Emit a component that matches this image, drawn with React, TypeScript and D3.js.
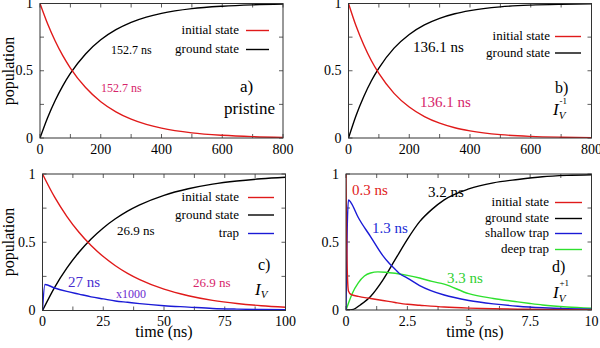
import React from "react";
import * as d3 from "d3";

// ---------- DATA ----------
// Panel a (pristine)
const tA = [0, 25, 50, 75, 100, 150, 200, 250, 300, 350, 400, 500, 600, 700, 800];
const initA = [1, 0.849, 0.721, 0.612, 0.52, 0.375, 0.27, 0.195, 0.14, 0.101, 0.073, 0.038, 0.02, 0.01, 0.005];
const groundA = [0, 0.151, 0.279, 0.388, 0.48, 0.625, 0.73, 0.805, 0.86, 0.899, 0.927, 0.962, 0.98, 0.99, 0.995];
// Panel b (I_V^-1)
const tB = [0, 25, 50, 75, 100, 150, 200, 250, 300, 350, 400, 500, 600, 700, 800];
const initB = [1, 0.832, 0.693, 0.576, 0.48, 0.332, 0.23, 0.159, 0.11, 0.076, 0.053, 0.025, 0.012, 0.006, 0.003];
const groundB = [0, 0.168, 0.307, 0.424, 0.52, 0.668, 0.77, 0.841, 0.89, 0.924, 0.947, 0.975, 0.988, 0.994, 0.997];
// Panel c (I_V)
const tC = [0, 5, 10, 15, 20, 25, 30, 35, 40, 50, 60, 70, 80, 90, 100];
const initC = [1, 0.83, 0.69, 0.573, 0.476, 0.395, 0.328, 0.272, 0.226, 0.156, 0.108, 0.074, 0.051, 0.035, 0.024];
const groundC = [0, 0.17, 0.31, 0.427, 0.524, 0.605, 0.672, 0.728, 0.774, 0.844, 0.892, 0.926, 0.949, 0.965, 0.976];
const tTrapC = [0, 1, 5, 10, 15, 20, 25, 30, 35, 40, 50, 60, 70, 80, 90, 100];
const trapC = [0, 0.19, 0.165, 0.14, 0.12, 0.1, 0.085, 0.07, 0.06, 0.05, 0.035, 0.025, 0.015, 0.01, 0.007, 0.005];
// Panel d (I_V^+1)
const tInitD = [0, 0.02, 0.05, 0.1, 0.2, 0.5, 1, 1.5, 2, 2.5, 3, 4, 5, 6, 7, 8, 10];
const initD = [1, 0.6, 0.3, 0.14, 0.115, 0.1, 0.085, 0.07, 0.055, 0.042, 0.035, 0.022, 0.014, 0.009, 0.006, 0.004, 0.002];
const tGroundD = [0, 0.3, 0.6, 1, 1.5, 2, 2.5, 3, 3.5, 4, 5, 6, 7, 8, 9, 10];
const groundD = [0, 0.005, 0.04, 0.1, 0.22, 0.37, 0.52, 0.65, 0.74, 0.81, 0.89, 0.935, 0.96, 0.98, 0.99, 0.995];
const tShallowD = [0, 0.05, 0.1, 0.2, 0.5, 1, 1.5, 1.75, 2, 2.2, 2.5, 3, 4, 5, 6, 7, 8, 9, 10];
const shallowD = [0, 0.6, 0.81, 0.79, 0.68, 0.54, 0.4, 0.345, 0.3, 0.265, 0.235, 0.18, 0.11, 0.07, 0.045, 0.028, 0.017, 0.01, 0.006];
const tDeepD = [0, 0.1, 0.25, 0.5, 0.75, 1, 1.3, 1.6, 2, 2.5, 3, 3.5, 4, 5, 6, 7, 7.5, 8, 9, 10];
const deepD = [0, 0.05, 0.12, 0.2, 0.25, 0.272, 0.28, 0.278, 0.27, 0.255, 0.235, 0.21, 0.19, 0.12, 0.085, 0.06, 0.048, 0.037, 0.022, 0.013];

const xTicksAB = [0, 200, 400, 600, 800];
const xTicksC = [0, 25, 50, 75, 100];
const xTicksD = [0, 2.5, 5, 7.5, 10];
const xTickLabelsD = ["0", "2.5", "5", "7.5", "10"];
const yTicks = [0, 0.5, 1];
const yTickLabels = ["0", "0.5", "1"];

const RED = "#e01a1a";
const BLACK = "#000000";
const BLUE = "#1a1ad6";
const GREEN = "#2ee02e";
const FONT = '"Liberation Serif"';

type Series = { t: number[]; v: number[]; color: string };
type Legend = { label: string; color: string; y: number };
type Note = { text: string; x: number; y: number; size: number; color: string };

interface PanelProps {
  x0: number; x1: number; y0: number; y1: number;
  xMax: number; xTicks: number[]; xLabels?: string[];
  series: Series[];
  legend: Legend[]; legTextX: number; legLineX0: number; legLineX1: number;
  notes: Note[];
  children?: React.ReactNode;
}

function Panel(p: PanelProps) {
  const xs = d3.scaleLinear().domain([0, p.xMax]).range([p.x0, p.x1]);
  const ys = d3.scaleLinear().domain([0, 1]).range([p.y1, p.y0]);
  const line = d3.line<[number, number]>().x(d => xs(d[0])).y(d => ys(d[1])).curve(d3.curveMonotoneX);
  const step = p.xTicks[1] - p.xTicks[0];
  const minorX: number[] = [];
  for (let i = 0; i < p.xTicks.length - 1; i++) minorX.push(p.xTicks[i] + step / 2);
  const minorY = [0.25, 0.75];
  const tl = 4;
  const frame = "#333";
  const cid = `clip${Math.round(p.x0)}_${Math.round(p.y0)}`;
  return (
    <g>
      <defs>
        <clipPath id={cid}>
          <rect x={p.x0} y={p.y0 - 1} width={p.x1 - p.x0} height={p.y1 - p.y0 + 1} />
        </clipPath>
      </defs>
      {[...p.xTicks, ...minorX].map((v, i) => (
        <g key={"xt" + i} stroke={frame} strokeWidth={0.8}>
          <line x1={xs(v)} x2={xs(v)} y1={p.y1} y2={p.y1 - tl} />
          <line x1={xs(v)} x2={xs(v)} y1={p.y0} y2={p.y0 + tl} />
        </g>
      ))}
      {[...yTicks, ...minorY].map((v, i) => (
        <g key={"yt" + i} stroke={frame} strokeWidth={0.8}>
          <line x1={p.x0} x2={p.x0 + tl} y1={ys(v)} y2={ys(v)} />
          <line x1={p.x1} x2={p.x1 - tl} y1={ys(v)} y2={ys(v)} />
        </g>
      ))}
      {p.xTicks.map((v, i) => (
        <text key={"xl" + i} x={xs(v)} y={p.y1 + 15.5} textAnchor="middle" fontFamily={FONT} fontSize={14}>
          {p.xLabels ? p.xLabels[i] : String(v)}
        </text>
      ))}
      {yTicks.map((v, i) => (
        <text key={"yl" + i} x={p.x0 - 7} y={ys(v) + 4.7} textAnchor="end" fontFamily={FONT} fontSize={14}>
          {yTickLabels[i]}
        </text>
      ))}
      <g clipPath={`url(#${cid})`}>
        {p.series.map((s, i) => (
          <path key={"s" + i} d={line(s.t.map((t, j) => [t, s.v[j]] as [number, number])) || ""}
            fill="none" stroke={s.color} strokeWidth={1.4} />
        ))}
      </g>
      {p.legend.map((l, i) => (
        <g key={"lg" + i}>
          <text x={p.legTextX} y={l.y + 3.5} textAnchor="end" fontFamily={FONT} fontSize={13}>{l.label}</text>
          <line x1={p.legLineX0} x2={p.legLineX1} y1={l.y} y2={l.y} stroke={l.color} strokeWidth={1.4} />
        </g>
      ))}
      {p.notes.map((n, i) => (
        <text key={"n" + i} x={n.x} y={n.y} fill={n.color} fontFamily={FONT} fontSize={n.size}>{n.text}</text>
      ))}
      {p.children}
      <rect x={p.x0} y={p.y0} width={p.x1 - p.x0} height={p.y1 - p.y0} fill="none" stroke={frame} strokeWidth={1} />
    </g>
  );
}

export default function App() {
  return (
    <svg width={600} height={348} style={{ position: "absolute", left: 0, top: 0 }}>
      <rect x={0} y={0} width={600} height={348} fill="#fff" />
      <Panel x0={40} x1={283} y0={3.5} y1={138} xMax={800} xTicks={xTicksAB}
        series={[{ t: tA, v: groundA, color: BLACK }, { t: tA, v: initA, color: RED }]}
        legend={[{ label: "initial state", color: RED, y: 30.5 }, { label: "ground state", color: BLACK, y: 49.5 }]}
        legTextX={239} legLineX0={246} legLineX1={269}
        notes={[
          { text: "152.7 ns", x: 111, y: 53.5, size: 12, color: BLACK },
          { text: "152.7 ns", x: 101, y: 91.5, size: 12, color: "#d6246a" },
          { text: "a)", x: 240, y: 91.5, size: 17, color: BLACK },
          { text: "pristine", x: 224, y: 114, size: 17, color: BLACK },
        ]} />
      <Panel x0={348.5} x1={591.5} y0={3.5} y1={138} xMax={800} xTicks={xTicksAB}
        series={[{ t: tB, v: groundB, color: BLACK }, { t: tB, v: initB, color: RED }]}
        legend={[{ label: "initial state", color: RED, y: 36.5 }, { label: "ground state", color: BLACK, y: 53 }]}
        legTextX={550} legLineX0={555} legLineX1={581}
        notes={[
          { text: "136.1 ns", x: 413, y: 51.5, size: 15, color: BLACK },
          { text: "136.1 ns", x: 420, y: 106.5, size: 15, color: "#d6246a" },
          { text: "b)", x: 555, y: 93, size: 16, color: BLACK },
        ]}>
        <text x={553} y={115} fontFamily={FONT} fontSize={17}>
          <tspan fontSize={17} fontStyle="italic">I</tspan>
          <tspan fontSize={11} fontStyle="italic" dy={4}>V</tspan>
          <tspan fontSize={9} dx={-6} dy={-15}>-1</tspan>
        </text>
      </Panel>
      <Panel x0={42.5} x1={285.5} y0={174} y1={310.5} xMax={100} xTicks={xTicksC}
        series={[{ t: tC, v: groundC, color: BLACK }, { t: tC, v: initC, color: RED }, { t: tTrapC, v: trapC, color: BLUE }]}
        legend={[{ label: "initial state", color: RED, y: 197.5 }, { label: "ground state", color: BLACK, y: 215 },
        { label: "trap", color: BLUE, y: 233.5 }]}
        legTextX={239} legLineX0={248} legLineX1={274}
        notes={[
          { text: "26.9 ns", x: 117, y: 235, size: 13, color: BLACK },
          { text: "27 ns", x: 68, y: 287, size: 15, color: "#4a2ed0" },
          { text: "x1000", x: 116, y: 298, size: 12, color: "#6a2ad0" },
          { text: "26.9 ns", x: 193, y: 287, size: 13, color: "#d6246a" },
          { text: "c)", x: 258, y: 270, size: 16, color: BLACK },
        ]}>
        <text x={255} y={295} fontFamily={FONT} fontSize={17}>
          <tspan fontSize={17} fontStyle="italic">I</tspan>
          <tspan fontSize={11} fontStyle="italic" dy={3}>V</tspan>
        </text>
      </Panel>
      <Panel x0={346} x1={591.5} y0={174} y1={310} xMax={10} xTicks={xTicksD} xLabels={xTickLabelsD}
        series={[{ t: tGroundD, v: groundD, color: BLACK }, { t: tDeepD, v: deepD, color: GREEN },
        { t: tShallowD, v: shallowD, color: BLUE }, { t: tInitD, v: initD, color: RED }]}
        legend={[{ label: "initial state", color: RED, y: 202.5 }, { label: "ground state", color: BLACK, y: 218.5 },
        { label: "shallow trap", color: BLUE, y: 233.5 }, { label: "deep trap", color: GREEN, y: 249.5 }]}
        legTextX={549} legLineX0={555} legLineX1={582}
        notes={[
          { text: "0.3 ns", x: 352, y: 195, size: 15, color: "#e02020" },
          { text: "3.2 ns", x: 428, y: 196.5, size: 15, color: BLACK },
          { text: "1.3 ns", x: 372, y: 233, size: 15, color: "#1a2ad6" },
          { text: "3.3 ns", x: 447, y: 283, size: 15, color: "#30d030" },
          { text: "d)", x: 552, y: 271.5, size: 16, color: BLACK },
        ]}>
        <text x={553} y={298} fontFamily={FONT} fontSize={17}>
          <tspan fontSize={17} fontStyle="italic">I</tspan>
          <tspan fontSize={11} fontStyle="italic" dy={4}>V</tspan>
          <tspan fontSize={9} dx={-6} dy={-16}>+1</tspan>
        </text>
      </Panel>
      <text transform="translate(14,71) rotate(-90)" textAnchor="middle" fontFamily={FONT} fontSize={16}>population</text>
      <text transform="translate(14,242) rotate(-90)" textAnchor="middle" fontFamily={FONT} fontSize={16}>population</text>
      <text x={164} y={337} textAnchor="middle" fontFamily={FONT} fontSize={16}>time (ns)</text>
      <text x={475} y={337} textAnchor="middle" fontFamily={FONT} fontSize={16}>time (ns)</text>
    </svg>
  );
}
